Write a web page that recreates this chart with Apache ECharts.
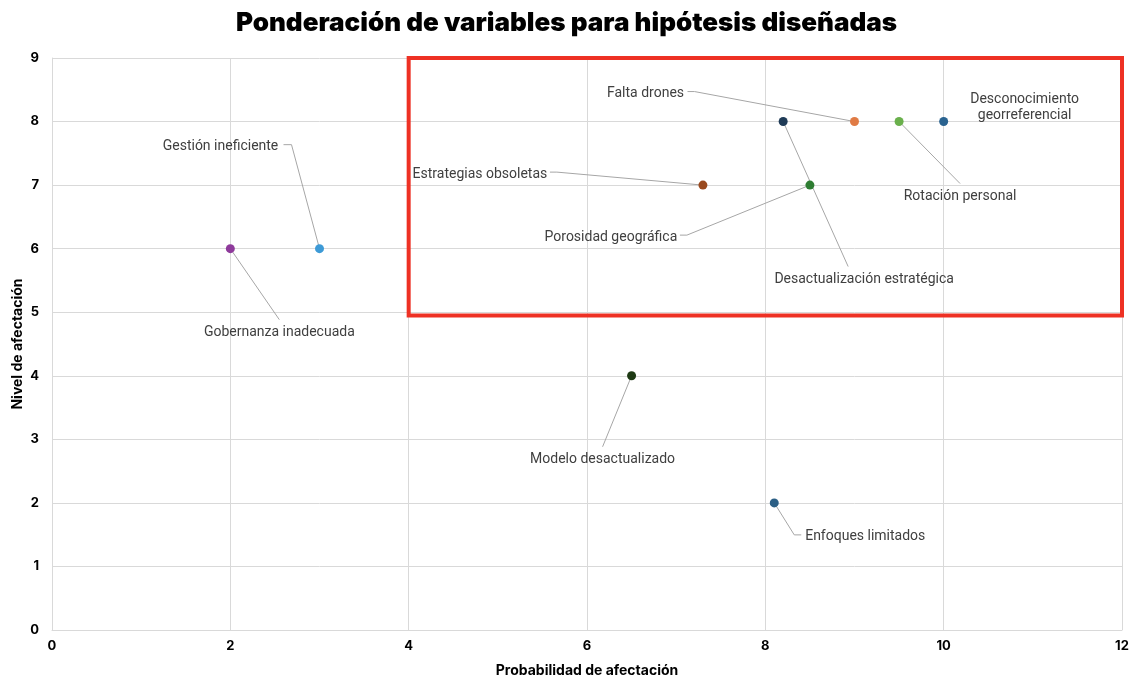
<!DOCTYPE html>
<html>
<head>
<meta charset="utf-8">
<script src="https://cdn.jsdelivr.net/npm/echarts@6/dist/echarts.min.js"></script>
<style>
  html, body { margin: 0; padding: 0; background: #fff; }
  #chart { width: 1133px; height: 679px; }
</style>
</head>
<body>
<div id="chart"></div>
<script>
// datos
const names = [
  'Gobernanza inadecuada',
  'Gestión ineficiente',
  'Modelo desactualizado',
  'Enfoques limitados',
  'Estrategias obsoletas',
  'Porosidad geográfica',
  'Desactualización estratégica',
  'Falta drones',
  'Rotación personal',
  'Desconocimiento\ngeorreferencial'
];
const probabilidad = [2, 3, 6.5, 8.1, 7.3, 8.5, 8.2, 9, 9.5, 10];
const nivel = [6, 6, 4, 2, 7, 7, 8, 8, 8, 8];
const xTicks = [0, 2, 4, 6, 8, 10, 12];
const yTicks = [0, 1, 2, 3, 4, 5, 6, 7, 8, 9];
const zona = [[4, 4.95], [12, 9]];

// estilos
const colors = ['#8e3a9b', '#3d9ad6', '#1e3a14', '#2c5f85', '#9a4a1f', '#2e7d32', '#1f3b57', '#e07b45', '#6ab04c', '#2a6390'];
// desplazamiento de etiquetas (px) respecto al punto
const offsets = [
  [49, 84], [-99, -102], [-29, 84], [91, 34], [-223, -11],
  [-199, 52], [81, 158], [-209, -28], [61, 75], [81, -14]
];
// lineas guia: puntos (px) relativos al punto
const guides = [
  [[49, 71]],
  [[-28, -104], [-36, -104]],
  [[-29, 71]],
  [[20, 32], [27, 32]],
  [[-146, -13], [-153, -13]],
  [[-123, 50], [-130, 50]],
  [[65, 145]],
  [[-160, -30], [-167, -30]],
  [[61, 62]],
  []
];

const chart = echarts.init(document.getElementById('chart'));

const data = names.map((n, i) => ({
  name: n,
  value: [probabilidad[i], nivel[i]],
  itemStyle: { color: colors[i], opacity: 1 }
}));

const option = {
  animation: false,
  title: {
    text: 'Ponderación de variables para hipótesis diseñadas',
    left: 'center',
    top: 5,
    textStyle: { fontFamily: 'Inter', fontWeight: 900, fontSize: 26, color: '#000' }
  },
  grid: { left: 52, right: 11, top: 58, bottom: 49, containLabel: false, outerBoundsMode: 'none' },
  xAxis: {
    type: 'value',
    min: xTicks[0],
    max: xTicks[xTicks.length - 1],
    interval: 2,
    name: 'Probabilidad de afectación',
    nameLocation: 'middle',
    nameGap: 34,
    nameTextStyle: { fontFamily: 'Inter', fontWeight: 'bold', fontSize: 14, color: '#000' },
    axisLine: { show: true, lineStyle: { color: '#d9d9d9' } },
    axisTick: { show: false },
    axisLabel: { fontFamily: 'Inter', fontWeight: 'bold', fontSize: 13, color: '#000', margin: 10 },
    splitLine: { show: true, lineStyle: { color: '#d9d9d9' } }
  },
  yAxis: {
    type: 'value',
    min: yTicks[0],
    max: yTicks[yTicks.length - 1],
    interval: 1,
    name: 'Nivel de afectación',
    nameLocation: 'middle',
    nameGap: 27,
    nameMoveOverlap: false,
    nameTextStyle: { fontFamily: 'Inter', fontWeight: 'bold', fontSize: 14, color: '#000' },
    axisLine: { show: true, lineStyle: { color: '#d9d9d9' } },
    axisTick: { show: false },
    axisLabel: { fontFamily: 'Inter', fontWeight: 'bold', fontSize: 13, color: '#000', margin: 13 },
    splitLine: { show: true, lineStyle: { color: '#d9d9d9' } }
  },
  series: [
    {
      // lineas guia de las etiquetas
      type: 'custom',
      silent: true,
      z: 1,
      data: data.map(d => d.value),
      renderItem: (params, api) => {
        const p = api.coord([api.value(0), api.value(1)]);
        const g = guides[params.dataIndex];
        if (!g.length) return null;
        const pts = [p].concat(g.map(o => [p[0] + o[0], p[1] + o[1]]));
        return {
          type: 'polyline',
          shape: { points: pts },
          style: { stroke: '#a6a6a6', fill: null, lineWidth: 1 }
        };
      }
    },
    {
      type: 'scatter',
      symbolSize: 9,
      z: 3,
      data: data,
      label: {
        show: true,
        position: 'inside',
        formatter: p => p.name,
        fontFamily: 'Roboto',
        fontSize: 14,
        color: '#404040',
        align: 'center',
        lineHeight: 16
      },
      labelLayout: p => ({
        dx: offsets[p.dataIndex][0],
        dy: offsets[p.dataIndex][1],
        hideOverlap: false
      }),
      markArea: {
        silent: true,
        itemStyle: { color: 'rgba(0,0,0,0)', borderColor: '#ee3124', borderWidth: 4 },
        data: [[{ coord: zona[0] }, { coord: zona[1] }]]
      }
    }
  ]
};

chart.setOption(option);
</script>
</body>
</html>
